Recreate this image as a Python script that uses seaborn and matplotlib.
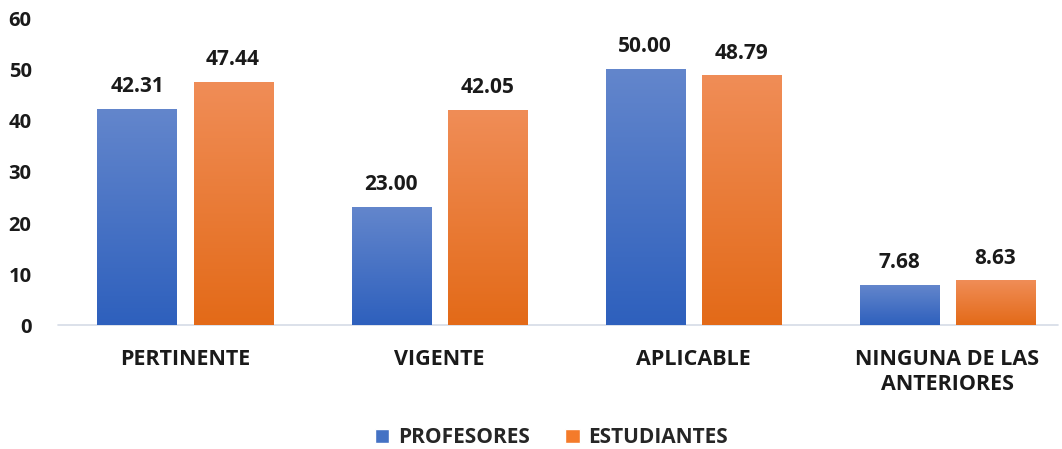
import numpy as np
import pandas as pd
import matplotlib
matplotlib.use("Agg")
import matplotlib.pyplot as plt
import seaborn as sns
from matplotlib.colors import LinearSegmentedColormap
from matplotlib.patches import Patch

categories = ["PERTINENTE", "VIGENTE", "APLICABLE", "NINGUNA DE LAS\nANTERIORES"]
series_names = ["PROFESORES", "ESTUDIANTES"]
profesores = [42.31, 23.00, 50.00, 7.68]
estudiantes = [47.44, 42.05, 48.79, 8.63]
yticks = [0, 10, 20, 30, 40, 50, 60]

sns.set_theme(style="white")
plt.rcParams["font.family"] = ["Open Sans", "DejaVu Sans"]

df = pd.DataFrame({
    "cat": categories * 2,
    "serie": [series_names[0]] * 4 + [series_names[1]] * 4,
    "val": profesores + estudiantes,
})

colors = {"PROFESORES": "#4472C4", "ESTUDIANTES": "#F47B2A"}
grad = {
    "PROFESORES": ("#2E60BD", "#6386CC"),
    "ESTUDIANTES": ("#E36A18", "#F08D57"),
}

fig = plt.figure(figsize=(10.62, 4.49), dpi=100)
ax = fig.add_axes([0.0546, 0.276, 0.957, 0.682])
sns.barplot(data=df, x="cat", y="val", hue="serie", order=categories,
            hue_order=series_names, palette=colors, width=0.756, gap=0.177,
            ax=ax, legend=False, saturation=1)

ax.set_ylim(0, 60)
ax.set_xlim(-0.5, 3.5)
ax.set_yticks(yticks)
ax.set_yticklabels([str(t) for t in yticks], fontsize=14.5, fontweight="bold", color="#1a1a1a")
ax.set_xticklabels(categories, fontsize=15.5, fontweight="bold", color="#1a1a1a", linespacing=1.27)
ax.tick_params(axis="y", length=0, pad=19)
ax.tick_params(axis="x", length=0, pad=17)
ax.set_xlabel("")
ax.set_ylabel("")
for s in ["top", "right", "left", "bottom"]:
    ax.spines[s].set_visible(False)
ax.axhline(0, xmin=0, xmax=(1058 - 58) / 1016, color="#D5DCE6", lw=1.2, zorder=1, clip_on=False)

# gradient fill and labels
for cont, name in zip(ax.containers, series_names):
    cmap = LinearSegmentedColormap.from_list(name, list(grad[name]))
    for bar in cont:
        x0, y0 = bar.get_x(), bar.get_y()
        w, h = bar.get_width(), bar.get_height()
        bar.set_facecolor("none")
        bar.set_edgecolor("none")
        ax.imshow(np.linspace(0, 1, 256).reshape(-1, 1), cmap=cmap,
                  extent=[x0, x0 + w, y0, y0 + h], origin="lower",
                  aspect="auto", zorder=2)
    ax.bar_label(cont, labels=[f"{v:.2f}" for v in cont.datavalues], padding=9,
                 fontsize=15, fontweight="bold", color="#1a1a1a")
ax.set_xlim(-0.5, 3.5)
ax.set_ylim(0, 60)

handles = [Patch(facecolor=colors[n], label=n) for n in series_names]
fig.legend(handles=handles, loc="lower center", bbox_to_anchor=(0.519, -0.04), ncol=2,
           frameon=False, prop={"weight": "bold", "size": 15}, handlelength=0.7,
           handleheight=0.7, handletextpad=0.4, columnspacing=1.7)

fig.savefig("out.png", dpi=100)
